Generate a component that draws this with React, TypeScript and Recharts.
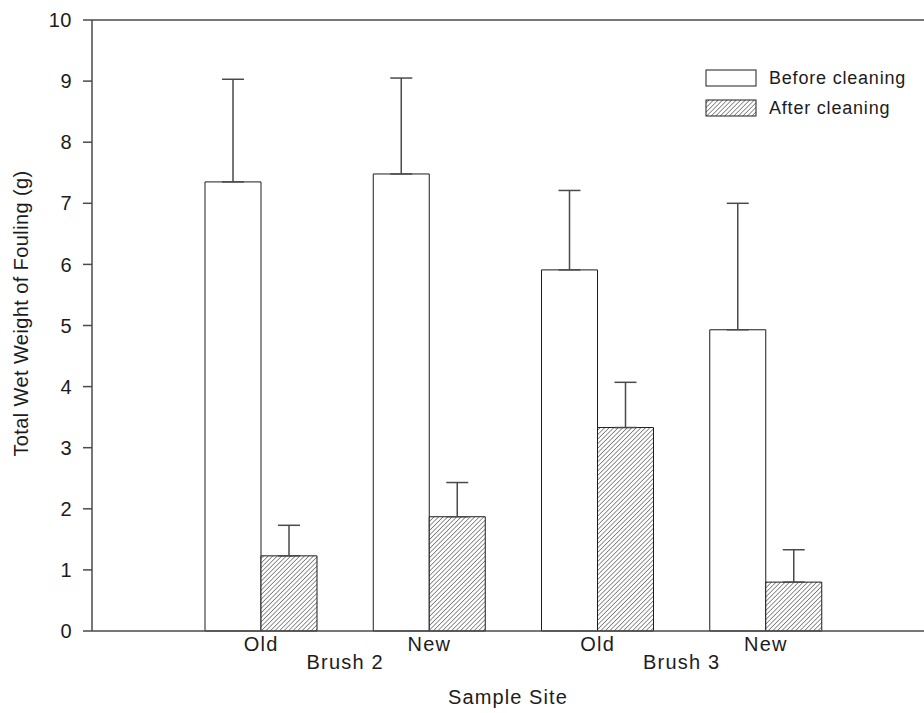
import React from 'react';
import { BarChart, Bar, XAxis, YAxis, ErrorBar, Legend, ReferenceLine, Label } from 'recharts';

const sites = ['Old', 'New', 'Old', 'New'];
const brushes = ['Brush 2', 'Brush 2', 'Brush 3', 'Brush 3'];
const beforeCleaning = [7.35, 7.48, 5.91, 4.93];
const beforeErr = [1.68, 1.57, 1.3, 2.07];
const afterCleaning = [1.23, 1.87, 3.33, 0.8];
const afterErr = [0.5, 0.56, 0.74, 0.53];
const yTicks = [0, 1, 2, 3, 4, 5, 6, 7, 8, 9, 10];

// upper-only error bars: [down, up]
const data = sites.map((site, i) => ({
  site,
  brush: brushes[i],
  before: beforeCleaning[i],
  beforeErr: [0, beforeErr[i]],
  after: afterCleaning[i],
  afterErr: [0, afterErr[i]],
}));

const font = '"Liberation Sans", Arial, sans-serif';
const ink = '#1c1c1c';
const line = '#4a4a4a';
const tickStyle = { fontFamily: font, fontSize: 20, fill: ink, letterSpacing: 1.2 };
const numStyle = { fontFamily: font, fontSize: 20, fill: ink, letterSpacing: 0.5 };

const LegendBox = () => (
  <div style={{ fontFamily: font, fontSize: 18, color: ink, letterSpacing: 0.8 }}>
    {[
      { name: 'Before cleaning', fill: '#ffffff' },
      { name: 'After cleaning', fill: 'url(#hatch)' },
    ].map((item) => (
      <div key={item.name} style={{ display: 'flex', alignItems: 'center', height: 30 }}>
        <svg width={52} height={18} style={{ marginRight: 12 }}>
          <rect x={1} y={1} width={50} height={16} fill={item.fill} stroke={ink} strokeWidth={1} />
        </svg>
        <span>{item.name}</span>
      </div>
    ))}
  </div>
);

export default function App() {
  return (
    <div style={{ position: 'absolute', left: 0, top: 0, width: 924, height: 713, background: '#fff' }}>
      <svg width={0} height={0} style={{ position: 'absolute' }}>
        <defs>
          <pattern id="hatch" width={3.2} height={3.2} patternUnits="userSpaceOnUse" patternTransform="rotate(45)">
            <rect width={3.2} height={3.2} fill="#ffffff" />
            <line x1={0} y1={0} x2={0} y2={3.2} stroke="#3a3a3a" strokeWidth={1.1} />
          </pattern>
        </defs>
      </svg>
      <BarChart
        width={924}
        height={713}
        data={data}
        margin={{ top: 20, right: 0, left: 0, bottom: 2 }}
        barGap={0}
        barSize={56}
      >
        <XAxis
          dataKey="site"
          height={20}
          tickLine={false}
          tickSize={0}
          tickMargin={6}
          axisLine={{ stroke: line, strokeWidth: 1.5 }}
          padding={{ left: 85, right: 74 }}
          tick={tickStyle}
        />
        <XAxis
          xAxisId="brush"
          dataKey="brush"
          allowDuplicatedCategory={false}
          height={60}
          tickLine={false}
          axisLine={false}
          tickSize={0}
          tickMargin={4}
          padding={{ left: 85, right: 74 }}
          tick={tickStyle}
        >
          <Label value="Sample Site" position="insideBottom" offset={7} style={{ ...tickStyle, letterSpacing: 1.1 }} />
        </XAxis>
        <YAxis
          domain={[0, 10]}
          ticks={yTicks}
          interval={0}
          width={92}
          tickSize={9}
          tickMargin={11}
          axisLine={{ stroke: line, strokeWidth: 1.5 }}
          tickLine={{ stroke: line, strokeWidth: 1.5 }}
          tick={numStyle}
        >
          <Label
            value="Total Wet Weight of Fouling (g)"
            angle={-90}
            position="insideLeft"
            offset={21}
            dy={-12}
            style={{ ...numStyle, letterSpacing: 0.4, textAnchor: 'middle' }}
          />
        </YAxis>
        <ReferenceLine y={10} stroke={line} strokeWidth={1.5} />
        <Legend
          layout="vertical"
          align="center"
          verticalAlign="middle"
          wrapperStyle={{ position: 'absolute', left: 705, top: 63, width: 220 }}
          content={() => <LegendBox />}
        />
        <Bar dataKey="before" name="Before cleaning" fill="#ffffff" stroke={ink} strokeWidth={1} isAnimationActive={false}>
          <ErrorBar dataKey="beforeErr" width={11} stroke={line} strokeWidth={1.5} />
        </Bar>
        <Bar dataKey="after" name="After cleaning" fill="url(#hatch)" stroke={ink} strokeWidth={1} isAnimationActive={false}>
          <ErrorBar dataKey="afterErr" width={11} stroke={line} strokeWidth={1.5} />
        </Bar>
      </BarChart>
    </div>
  );
}
